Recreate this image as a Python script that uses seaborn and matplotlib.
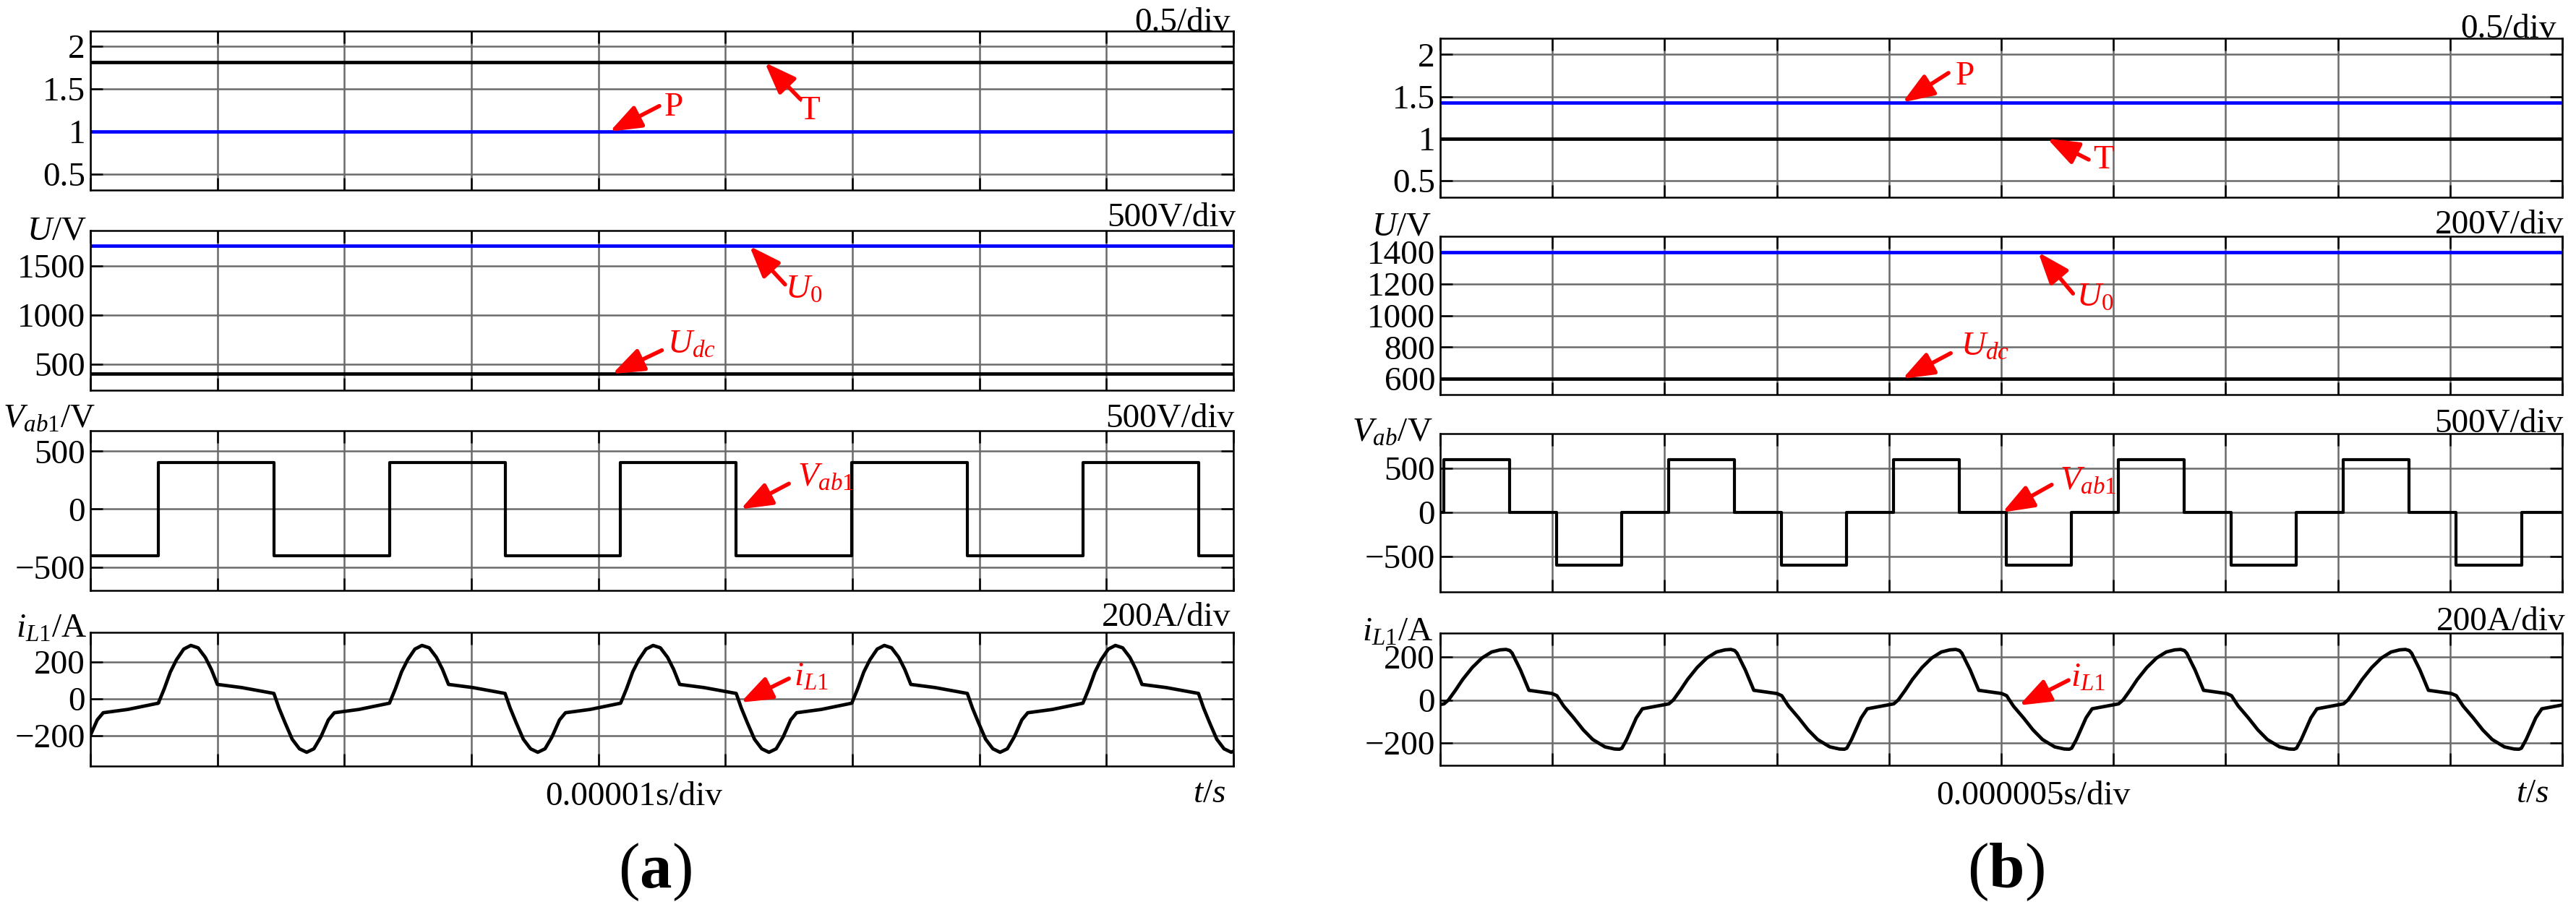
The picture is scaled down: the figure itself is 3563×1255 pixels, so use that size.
import numpy as np
import pandas as pd
import matplotlib
matplotlib.use("Agg")
import matplotlib.pyplot as plt
import seaborn as sns

# ---------------- data (x in divisions) ----------------
# (a) 0.00001 s/div, 9 divisions
a_ndiv = 9
a_T = 1.81
a_P = 1.0
a_U0 = 1700
a_Udc = 400
a_vab_t = [0.0, 0.535, 1.445, 2.355, 3.265, 4.175, 5.085, 5.995, 6.905, 7.815, 8.725, 9.0]
a_vab_v = [-400, 400, -400, 400, -400, 400, -400, 400, -400, 400, -400, -400]
a_il_starts = [-1.285, 0.535, 2.355, 4.175, 5.995, 7.815]
a_il_tau = [0.0, 0.047, 0.095, 0.143, 0.20, 0.256, 0.313, 0.37, 0.418, 0.465, 0.655, 0.91,
            0.95, 0.997, 1.054, 1.111, 1.168, 1.225, 1.28, 1.339, 1.386, 1.58, 1.82]
a_il_val = [-24, 55, 146, 212, 270, 290, 277, 225, 159, 78, 61, 29,
            -50, -129, -220, -272, -291, -272, -207, -115, -76, -58, -24]

# (b) 0.000005 s/div, 10 divisions
b_ndiv = 10
b_P = 1.43
b_T = 1.0
b_U0 = 1400
b_Udc = 600
b_vab_t = [0.0, 0.034, 0.62, 1.04, 1.62, 2.038, 2.624, 3.044, 3.624, 4.042, 4.628,
           5.048, 5.628, 6.046, 6.632, 7.052, 7.632, 8.05, 8.636, 9.056, 9.636, 10.0]
b_vab_v = [0, 600, 0, -600, 0, 600, 0, -600, 0, 600, 0,
           -600, 0, 600, 0, -600, 0, 600, 0, -600, 0, 0]
b_il_starts = [-1.97, 0.034, 2.038, 4.042, 6.046, 8.05]
b_il_tau = [0.0, 0.04, 0.102, 0.166, 0.252, 0.338, 0.424, 0.50, 0.553, 0.586, 0.607, 0.682,
            0.757, 0.962, 1.006, 1.066, 1.156, 1.241, 1.326, 1.434, 1.52, 1.564, 1.586,
            1.628, 1.714, 1.768, 1.966, 2.004]
b_il_val = [-18, 0, 45, 95, 151, 195, 223, 233, 235, 230, 218, 139,
            45, 30, 20, -28, -83, -139, -184, -218, -228, -229, -224,
            -184, -83, -41, -22, -18]

# annotations: (text, head_x, head_y, tail_x, tail_y, text_x, text_y)
a_notes = [
    [("P", 4.09, 1.0, 4.48, 1.30, 4.52, 1.28), ("T", 5.31, 1.81, 5.59, 1.38, 5.58, 1.24)],
    [(r"$U_\mathrm{0}$", 5.19, 1700, 5.47, 1309, 5.47, 1250), (r"$U_{dc}$", 4.11, 400, 4.50, 640, 4.54, 690)],
    [(r"$V_{ab\mathrm{1}}$", 5.12, 0, 5.50, 220, 5.57, 270)],
    [(r"$i_{L\mathrm{1}}$", 5.12, -20, 5.50, 110, 5.54, 115)],
]
b_notes = [
    [("P", 4.12, 1.43, 4.53, 1.78, 4.59, 1.74), ("T", 5.41, 1.0, 5.78, 0.75, 5.82, 0.74)],
    [(r"$U_\mathrm{0}$", 5.33, 1400, 5.64, 1139, 5.67, 1110), (r"$U_{dc}$", 4.12, 600, 4.55, 762, 4.64, 800)],
    [(r"$V_{ab\mathrm{1}}$", 5.01, 0, 5.45, 315, 5.52, 350)],
    [(r"$i_{L\mathrm{1}}$", 5.16, -25, 5.60, 92, 5.62, 100)],
]

# ---------------- style ----------------
sns.set_theme(style="white")
plt.rcParams["font.family"] = ["Liberation Serif", "DejaVu Serif"]
plt.rcParams["mathtext.fontset"] = "custom"
plt.rcParams["mathtext.rm"] = "Liberation Serif"
plt.rcParams["mathtext.it"] = "Liberation Serif:italic"
plt.rcParams["mathtext.bf"] = "Liberation Serif:bold"
plt.rcParams["axes.unicode_minus"] = True

FS = 34
W, H = 3563, 1255
fig = plt.figure(figsize=(W / 100, H / 100), dpi=100)
fig.patch.set_facecolor("white")


def add_ax(x0, x1, y0, y1):
    return fig.add_axes([x0 / W, 1 - y1 / H, (x1 - x0) / W, (y1 - y0) / H])


def style(ax, ndiv, ylim, yticks, ylabels):
    ax.set_xlim(0, ndiv)
    ax.set_ylim(*ylim)
    ax.set_xticks(np.arange(ndiv + 1))
    ax.set_xticklabels([])
    ax.set_yticks(yticks)
    ax.set_yticklabels(ylabels)
    ax.grid(True, color="#6a6a6a", linewidth=1.8)
    ax.set_axisbelow(True)
    ax.tick_params(direction="in", length=12, width=1.8, color="black",
                   top=True, right=True, bottom=True, left=True,
                   labelsize=FS, pad=5, labelcolor="black")
    for s in ax.spines.values():
        s.set_color("black")
        s.set_linewidth(1.8)
    ax.set_xlabel("")
    ax.set_ylabel("")


def hline(ax, ndiv, val, color):
    df = pd.DataFrame({"t": [0, ndiv], "v": [val, val]})
    sns.lineplot(data=df, x="t", y="v", ax=ax, color=color, linewidth=3.4,
                 estimator=None, sort=False, legend=False)


def notes(ax, lst):
    for (s, hx, hy, tx, ty, sx, sy) in lst:
        ax.annotate("", xy=(hx, hy), xytext=(tx, ty),
                    arrowprops=dict(arrowstyle="-|>,head_length=1.2,head_width=0.45",
                                    color="red", lw=4, shrinkA=0, shrinkB=0,
                                    mutation_scale=22),
                    annotation_clip=False, zorder=6)
        ax.text(sx, sy, s, color="red", fontsize=FS, ha="left", va="center", zorder=6)


def ftext(x, y, s, ha="right", va="baseline", size=FS):
    fig.text(x / W, 1 - y / H, s, ha=ha, va=va, fontsize=size, color="black")


def build(side):
    if side == "a":
        xl, xr, nd = 125, 1706, a_ndiv
        ys = [(43, 263), (319, 540), (596, 817), (875, 1060)]
        ylims = [(0.314, 2.178), (233, 1858), (-702, 677), (-366, 361)]
        yt2 = [500, 1000, 1500]
        T, P, U0, Udc = a_T, a_P, a_U0, a_Udc
        vt, vv = a_vab_t, a_vab_v
        starts, tau, val = a_il_starts, a_il_tau, a_il_val
        nts = a_notes
    else:
        xl, xr, nd = 1992, 3544, b_ndiv
        ys = [(52.7, 272.7), (327, 546), (600, 819), (876, 1059)]
        ylims = [(0.305, 2.194), (500, 1501), (-904, 896), (-304, 311)]
        yt2 = [600, 800, 1000, 1200, 1400]
        T, P, U0, Udc = b_T, b_P, b_U0, b_Udc
        vt, vv = b_vab_t, b_vab_v
        starts, tau, val = b_il_starts, b_il_tau, b_il_val
        nts = b_notes

    axs = [add_ax(xl, xr, y0, y1) for (y0, y1) in ys]

    # panel 1
    ax = axs[0]
    hline(ax, nd, T, "black")
    hline(ax, nd, P, "#0000ff")
    style(ax, nd, ylims[0], [0.5, 1, 1.5, 2], ["0.5", "1", "1.5", "2"])

    # panel 2
    ax = axs[1]
    hline(ax, nd, U0, "#0000ff")
    hline(ax, nd, Udc, "black")
    style(ax, nd, ylims[1], yt2, [str(v) for v in yt2])

    # panel 3
    ax = axs[2]
    df = pd.DataFrame({"t": vt, "v": vv})
    sns.lineplot(data=df, x="t", y="v", ax=ax, color="black", linewidth=3.0,
                 drawstyle="steps-post", estimator=None, sort=False, legend=False)
    style(ax, nd, ylims[2], [-500, 0, 500], ["\u2212500", "0", "500"])

    # panel 4
    ax = axs[3]
    tt = np.concatenate([s0 + np.array(tau) for s0 in starts])
    ii = np.concatenate([np.array(val, dtype=float) for _ in starts])
    df = pd.DataFrame({"t": tt, "i": ii})
    sns.lineplot(data=df, x="t", y="i", ax=ax, color="black", linewidth=3.4,
                 estimator=None, sort=False, legend=False)
    style(ax, nd, ylims[3], [-200, 0, 200], ["\u2212200", "0", "200"])

    for ax, lst in zip(axs, nts):
        notes(ax, lst)
    return axs


build("a")
build("b")

# ---- panel texts (a) ----
ftext(1702, 43, "0.5/div")
ftext(1709, 312, "500V/div")
ftext(1707, 591, "500V/div")
ftext(1702, 866, "200A/div")
ftext(120, 331, r"$U$/V")
ftext(132, 592, r"$V_{ab\mathrm{1}}$/V")
ftext(120, 882, r"$i_{L\mathrm{1}}$/A")
ftext(877, 1114, "0.00001s/div", ha="center")
ftext(1695, 1110, r"$t/s$")
ftext(906, 1228, r"($\mathbf{a}$)", ha="center", size=64)

# ---- panel texts (b) ----
ftext(3536, 52, "0.5/div")
ftext(3546, 323, "200V/div")
ftext(3545, 598, "500V/div")
ftext(3548, 872, "200A/div")
ftext(1980, 326, r"$U$/V")
ftext(1982, 611, r"$V_{ab}$/V")
ftext(1982, 887, r"$i_{L\mathrm{1}}$/A")
ftext(2812, 1113, "0.000005s/div", ha="center")
ftext(3525, 1110, r"$t/s$")
ftext(2774, 1228, r"($\mathbf{b}$)", ha="center", size=64)

fig.savefig("out.png", dpi=100, facecolor="white")
